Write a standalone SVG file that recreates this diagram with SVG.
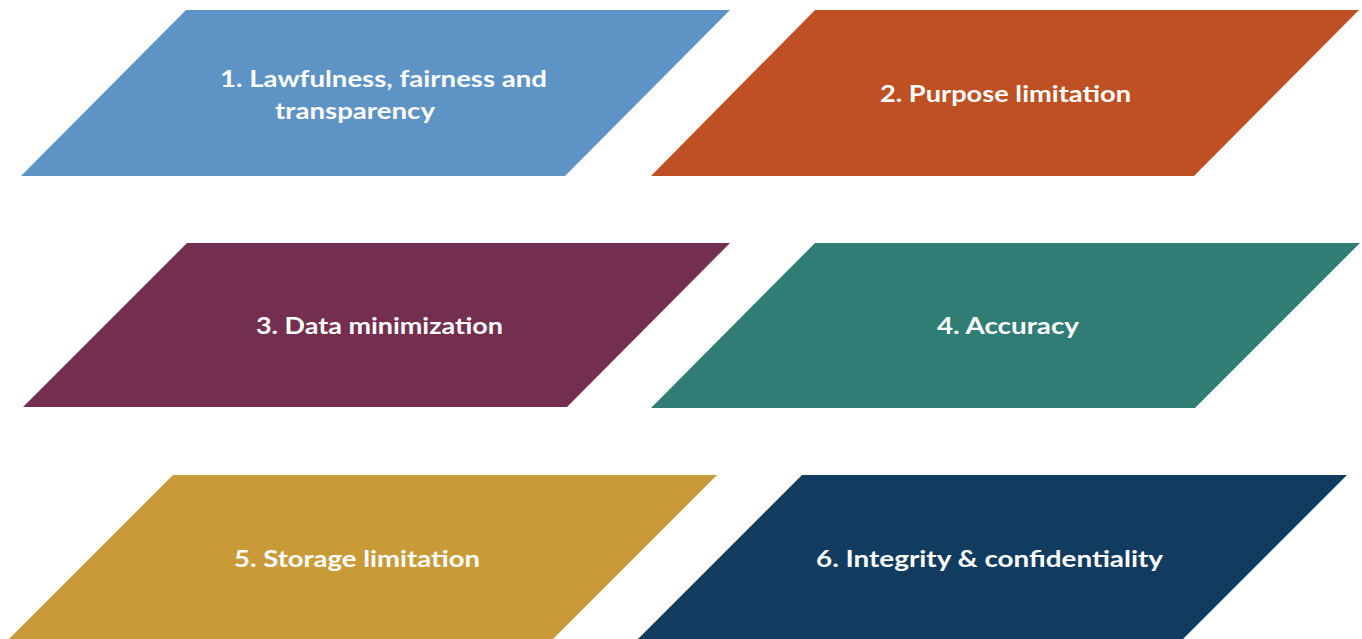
<svg xmlns="http://www.w3.org/2000/svg" width="1362" height="639" viewBox="0 0 1362 639">
<style>
.lbl{font-family:Lato,"Open Sans","Liberation Sans",sans-serif;font-weight:700;font-size:23px;fill:#ffffff;text-anchor:middle}
</style>
<rect width="1362" height="639" fill="#ffffff"/>
<g id="node1"><polygon points="186,10 730,10 565,176 21,176" fill="#5E93C5"/>
<text class="lbl" x="383.5" y="86.5" textLength="327" lengthAdjust="spacingAndGlyphs">1. Lawfulness, fairness and</text>
<text class="lbl" x="355" y="118.5" textLength="160" lengthAdjust="spacingAndGlyphs">transparency</text></g>
<g id="node2"><polygon points="815,10 1359,10 1194,176 651,176" fill="#BE5024"/>
<text class="lbl" x="1005.5" y="101.5" textLength="251" lengthAdjust="spacingAndGlyphs">2. Purpose limitation</text></g>
<g id="node3"><polygon points="187,243 730,243 567,407 23,407" fill="#742E50"/>
<text class="lbl" x="379.5" y="333.5" textLength="247" lengthAdjust="spacingAndGlyphs">3. Data minimization</text></g>
<g id="node4"><polygon points="815,243 1360,243 1195,408 651,408" fill="#2F7D74"/>
<text class="lbl" x="1008" y="334" textLength="142" lengthAdjust="spacingAndGlyphs">4. Accuracy</text></g>
<g id="node5"><polygon points="173,475 717,475 553,639 9,639" fill="#C99A38"/>
<text class="lbl" x="357" y="566.5" textLength="246" lengthAdjust="spacingAndGlyphs">5. Storage limitation</text></g>
<g id="node6"><polygon points="802,475 1347,475 1183,639 638,639" fill="#113B5F"/>
<text class="lbl" x="989.5" y="566.5" textLength="347" lengthAdjust="spacingAndGlyphs">6. Integrity &amp; confidentiality</text></g>
<g id="connectors"></g>
</svg>
